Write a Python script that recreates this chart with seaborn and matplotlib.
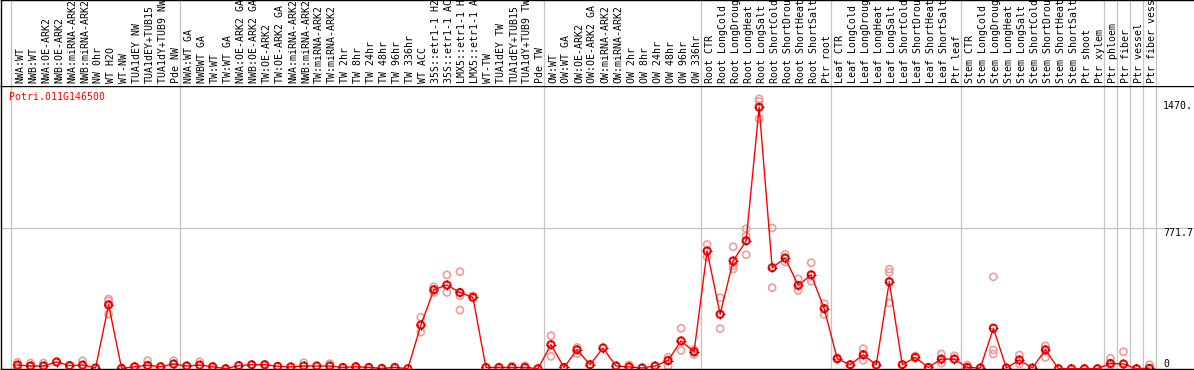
import numpy as np
import pandas as pd
import matplotlib
matplotlib.use("Agg")
import matplotlib.pyplot as plt
import seaborn as sns
from matplotlib.path import Path

# sample groups (columns per group, left to right)
group_sizes = [13, 28, 12, 10, 10, 11, 1, 1, 1, 1]

# column labels as they appear in the header (long ones are cut at the top edge)
labels = [
    "NWA:WT", "NWB:WT", "NWA:OE-ARK2", "NWB:OE-ARK2", "NWA:miRNA-ARK2", "NWB:miRNA-ARK2",
    "NW 0hr", "WT H2O", "WT-NW", "TUA1dEY NW", "TUA1dEY+TUB15", "TUA1dY+TUB9 NW", "Pde NW",
    "NWA:WT GA", "NWBWT GA", "TW:WT", "TW:WT GA", "NWA:OE-ARK2 GA", "NWB:OE-ARK2 GA",
    "TW:OE-ARK2", "TW:OE-ARK2 GA", "NWA:miRNA-ARK2", "NWB:miRNA-ARK2", "TW:miRNA-ARK2",
    "TW:miRNA-ARK2", "TW 2hr", "TW 8hr", "TW 24hr", "TW 48hr", "TW 96hr", "TW 336hr",
    "WT ACC", "35S::etr1-1 H2", "35S::etr1-1 AC", "LMX5::etr1-1 H", "LMX5::etr1-1 A",
    "WT-TW", "TUA1dEY TW", "TUA1dEY+TUB15", "TUA1dY+TUB9 TW", "Pde TW",
    "OW:WT", "OW:WT GA", "OW:OE-ARK2", "OW:OE-ARK2 GA", "OW:miRNA-ARK2", "OW:miRNA-ARK2",
    "OW 2hr", "OW 8hr", "OW 24hr", "OW 48hr", "OW 96hr", "OW 336hr",
    "Root CTR", "Root LongCold", "Root LongDroug", "Root LongHeat", "Root LongSalt",
    "Root ShortCold", "Root ShortDrou", "Root ShortHeat", "Root ShortSalt", "Ptr root",
    "Leaf CTR", "Leaf LongCold", "Leaf LongDroug", "Leaf LongHeat", "Leaf LongSalt",
    "Leaf ShortCold", "Leaf ShortDrou", "Leaf ShortHeat", "Leaf ShortSalt", "Ptr leaf",
    "Stem CTR", "Stem LongCold", "Stem LongDroug", "Stem LongHeat", "Stem LongSalt",
    "Stem ShortCold", "Stem ShortDrou", "Stem ShortHeat", "Stem ShortSalt", "Ptr shoot",
    "Ptr xylem", "Ptr phloem", "Ptr fiber", "Ptr vessel", "Ptr fiber vess",
]

means = [
    20, 15, 15, 37, 17, 20, 4, 351, 2, 11, 18, 11, 26,
    15, 20, 11, 0, 17, 22, 22, 13, 10, 15, 15, 15, 7, 11, 7, 2, 7, 0,
    240, 434, 460, 419, 392, 7, 7, 7, 7, 0,
    132, 7, 104, 22, 114, 15, 10, 4, 15, 45, 153, 93,
    647, 299, 592, 703, 1437, 555, 608, 458, 516, 330,
    55, 22, 77, 21, 478, 22, 62, 7, 53, 53,
    7, 4, 223, 4, 48, 4, 104, 0, 0, 0, 0,
    29, 26, 0, 2,
]

# individual replicates (column index, value)
rep_col = [0, 0, 1, 2, 5, 7, 7, 7, 10, 12, 14, 22, 24, 38, 39,
           31, 31, 32, 32, 33, 33, 34, 34, 34, 35,
           41, 41, 43, 43, 47, 50, 50, 51, 51, 52, 52,
           53, 53, 54, 54, 55, 55, 55, 56, 56, 56, 57, 57, 57,
           58, 58, 59, 59, 60, 60, 61, 61, 62, 62,
           63, 65, 65, 67, 67, 67, 69, 71, 71, 72, 73,
           75, 75, 75, 77, 77, 79, 79, 84, 84, 85, 87]
rep_val = [35, 7, 31, 31, 44, 383, 373, 300, 44, 44, 38, 33, 28, 15, 16,
           282, 200, 450, 419, 516, 419, 533, 401, 322, 400,
           181, 68, 117, 84, 20, 62, 16, 222, 100, 105, 78,
           683, 614, 390, 220, 670, 565, 548, 769, 730, 626, 1483, 1468, 1373,
           773, 445, 628, 586, 494, 430, 582, 480, 357, 298,
           60, 110, 46, 547, 529, 361, 70, 81, 30, 71, 20,
           505, 103, 81, 75, 26, 126, 62, 57, 15, 93, 22]

y_ticks = [1470, 771.7, 0]
y_tick_text = ["1470.", "771.7", "0"]
title = "Potri.011G146500"

sns.set_style("white")
plt.rcParams["font.family"] = ["DejaVu Sans Mono"]

W, H = 1194, 370
top_px, bot_px, left_px = 85.7, 368.7, 1.0
col_w = (1156 - 11) / 88
x_lo = (left_px - 11) / col_w - 0.5
x_hi = (W - 11) / col_w - 0.5
grey = "#c4c4c4"
fs = 7.1

fig = plt.figure(figsize=(W / 100, H / 100), dpi=100)
ax = fig.add_axes([left_px / W, (H - bot_px) / H, (W - left_px) / W, (bot_px - top_px) / H])
hx = fig.add_axes([left_px / W, (H - top_px) / H, (W - left_px) / W, top_px / H])

idx = np.arange(len(means))
df = pd.DataFrame({"x": idx, "y": means})
reps = pd.DataFrame({"x": rep_col, "y": rep_val})

bounds = np.cumsum([0] + group_sizes) - 0.5
for b in bounds:
    ax.axvline(b, color=grey, lw=0.9, zorder=0)
    hx.axvline(b, color=grey, lw=0.9, zorder=0)
ax.axhline(771.7, color=grey, lw=0.9, zorder=0)

sns.scatterplot(data=reps, x="x", y="y", ax=ax, marker="o", s=26,
                facecolor="none", edgecolor="#ee9c9c", linewidth=1.2, zorder=2)
sns.lineplot(data=df, x="x", y="y", ax=ax, color="red", linewidth=1.0,
             sort=False, errorbar=None, zorder=3)
sns.scatterplot(data=df, x="x", y="y", ax=ax, marker="o", s=26,
                facecolor="none", edgecolor="red", linewidth=1.5, zorder=4)

# small crosshair ticks on the mean circles
tick_path = Path([(0, 0.75), (0, 1.3), (0, -0.75), (0, -1.3),
                  (0.75, 0), (1.3, 0), (-0.75, 0), (-1.3, 0)],
                 [Path.MOVETO, Path.LINETO] * 4)
sns.scatterplot(data=df, x="x", y="y", ax=ax, marker=tick_path, s=(5.1 * 1.3) ** 2,
                facecolor="none", edgecolor="#5a0000", linewidth=0.7, zorder=5)

ax.set_xlim(x_lo, x_hi)
ax.set_ylim(0, 1555)
ax.set_xticks([])
ax.set_yticks([])
ax.set_xlabel("")
ax.set_ylabel("")
for s in ["left", "bottom", "top"]:
    ax.spines[s].set_color("black")
    ax.spines[s].set_linewidth(1.0)
ax.spines["right"].set_visible(False)

lab_x = (1163 - 11) / col_w - 0.5
for v, t in zip(y_ticks, y_tick_text):
    ax.text(lab_x, v, t, ha="left", va="bottom" if v == 0 else "top",
            fontsize=fs, color="black", clip_on=False)

hx.set_xlim(x_lo, x_hi)
hx.set_ylim(0, top_px)
hx.set_xticks([])
hx.set_yticks([])
for s in ["left", "top"]:
    hx.spines[s].set_color("black")
    hx.spines[s].set_linewidth(1.0)
hx.spines["right"].set_visible(False)
hx.spines["bottom"].set_visible(False)
for i, lab in enumerate(labels):
    hx.text(i + 0.19, 2.4, lab, rotation=90, ha="center", va="bottom",
            fontsize=fs, color="black")

fig.text(9 / W, 1 - 97 / H, title, color="red", fontsize=fs, ha="left", va="center")

fig.savefig("out.png", dpi=100)
plt.close(fig)
